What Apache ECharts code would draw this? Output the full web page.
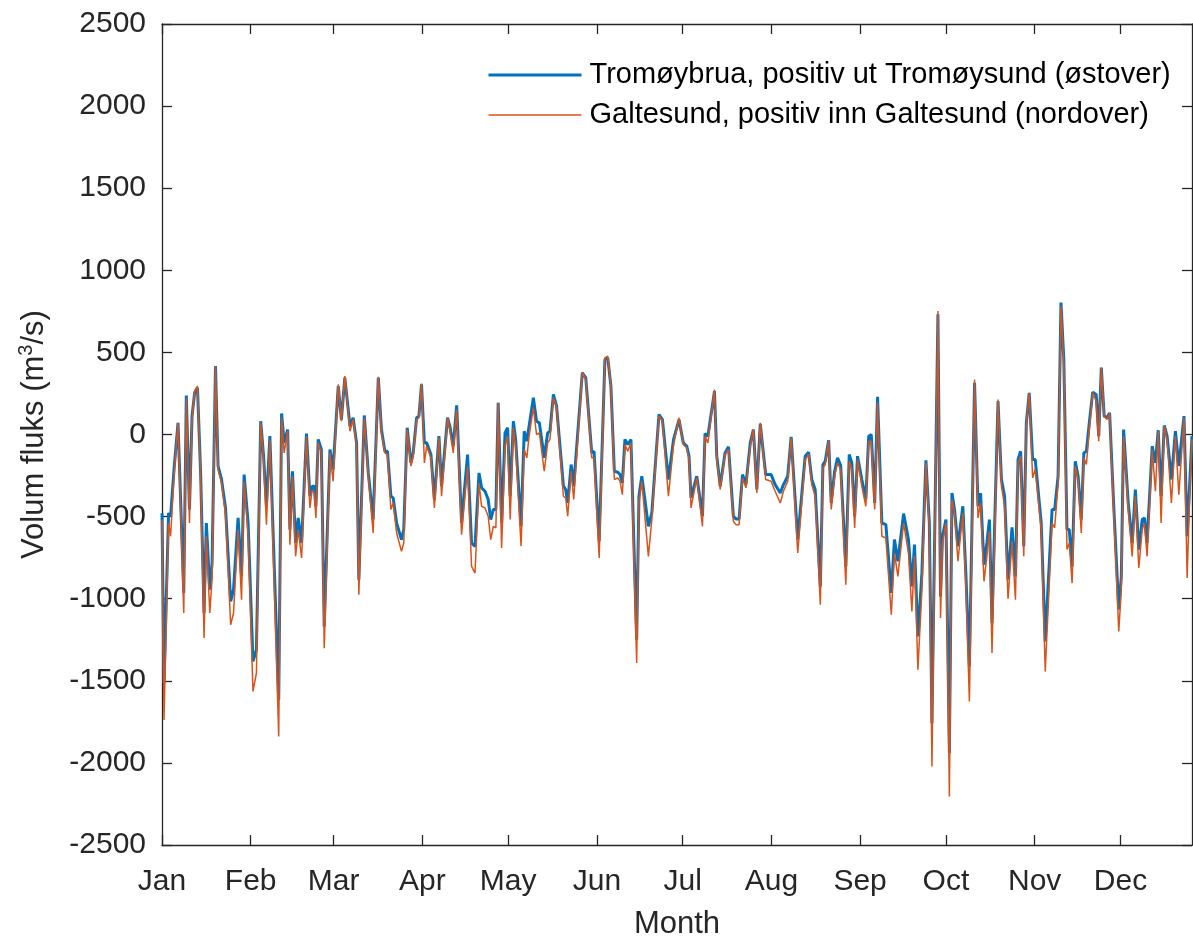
<!DOCTYPE html>
<html>
<head>
<meta charset="utf-8">
<script src="https://cdn.jsdelivr.net/npm/echarts@6/dist/echarts.min.js"></script>
<style>
html,body{margin:0;padding:0;background:#fff;}
#chart{width:1193px;height:938px;}
</style>
</head>
<body>
<div id="chart"></div>
<script>
// Day of year (0 = 1 Jan, leap year)
var days = [0,0.7,2.3,3.0,4.2,5.6,7.6,8.5,9.6,10.5,11.4,12.4,13.5,14.7,15.5,16.7,17.5,18.7,19.6,20.8,22.2,24.0,25.0,26.6,27.8,28.7,30.1,31.8,33.0,34.5,35.5,36.5,37.7,40.8,41.8,42.7,43.9,44.7,45.6,46.7,47.6,48.8,50.5,51.7,52.5,53.2,53.8,54.6,55.7,56.7,58.7,59.8,
61.6,62.7,63.9,65.7,66.8,68.0,68.8,70.7,72.1,73.8,75.6,76.7,77.9,78.8,80.0,80.8,82.0,83.7,84.5,85.7,87.0,87.8,89.0,89.8,90.7,91.7,92.5,94.0,95.2,96.8,97.7,99.8,100.6,101.8,103.0,104.7,106.8,108.2,109.4,110.8,111.7,112.9,114.0,114.9,115.8,116.7,117.5,118.7,
119.9,120.8,121.7,122.8,123.6,125.5,126.6,127.5,128.3,129.8,130.9,131.9,133.6,134.8,135.6,136.8,137.9,140.3,141.1,141.8,143.0,143.9,146.9,148.1,150.2,151.0,152.8,154.8,155.8,156.9,158.1,159.3,160.1,160.9,161.8,162.8,163.9,165.9,166.7,167.7,170.0,171.2,173.7,174.9,177.0,178.8,
180.7,182.2,183.4,184.2,184.9,186.9,188.9,189.8,190.8,193.1,193.9,195.1,196.8,198.0,199.7,200.6,201.7,202.9,204.1,205.6,206.7,207.9,209.1,211.0,212.9,214.3,216.1,217.2,218.7,219.9,222.2,224.8,226.0,227.1,228.3,230.1,231.0,231.8,233.0,233.9,235.1,236.1,237.2,
239.0,240.2,241.1,242.1,243.1,244.6,246.0,247.0,247.9,249.1,250.1,251.6,253.0,254.9,256.0,257.2,259.2,260.9,262.1,263.0,264.2,265.6,267.0,268.2,269.1,270.3,271.2,272.1,272.8,274.0,275.2,276.1,277.0,278.2,279.9,281.0,282.2,284.0,285.2,286.1,287.3,288.3,289.2,290.1,292.2,293.4,294.5,295.7,297.1,
298.3,299.2,300.1,301.2,302.1,303.1,304.3,305.2,307.3,308.7,311.1,312.0,313.2,314.2,315.2,316.3,317.1,318.1,319.2,320.2,321.3,322.2,323.1,324.1,325.3,326.5,327.4,328.3,329.3,330.3,331.2,332.6,334.4,335.3,336.1,337.7,339.1,340.2,341.4,342.6,343.4,344.3,346.1,347.2,348.2,349.2,350.3,351.3,352.8,354.2,355.4,357.2,358.3,359.1,360.0];

var tromoybrua = [-480,-1514,-478,-498,-213,71,-965,238,-457,112,254,285,-234,-1087,-539,-945,-783,417,-193,-274,-447,-1016,-945,-508,-864,-244,-539,-1382,-1311,81,-132,-437,-10,-1616,128,-51,30,-579,-224,-661,-508,-661,6,-376,-315,-315,-437,-30,-91,-1169,-91,-213,
295,91,346,51,102,-51,-884,116,-234,-518,346,30,-102,-102,-376,-386,-539,-640,-579,41,-173,-112,102,112,305,-51,-51,-122,-396,-10,-315,102,51,-71,177,-539,-122,-661,-681,-234,-325,-346,-396,-518,-457,-457,193,-539,
10,41,-376,81,-30,-559,20,-41,51,224,81,71,-142,10,20,244,173,-315,-335,-417,-183,-315,376,346,-112,-102,-650,457,467,295,-224,-230,-244,-295,-30,-61,-30,-1250,-376,-254,-559,-478,122,91,-274,-30,
91,-51,-71,-132,-386,-254,-498,6,-10,264,-132,-315,-112,-75,-498,-514,-514,-244,-305,-51,30,-335,65,-244,-244,-305,-356,-305,-254,-14,-640,-132,-108,-274,-335,-925,-183,-163,-35,-417,-224,-142,-188,
-803,-122,-173,-498,-132,-274,-396,-10,0,-417,230,-539,-549,-965,-640,-772,-482,-640,-925,-671,-1230,-843,-157,-539,-1758,-335,732,-986,-620,-518,-1941,-356,-457,-681,-437,-864,-1413,315,-437,-356,-793,-661,-518,-1148,203,-274,-376,-884,-565,
-864,-152,-102,-681,71,254,-152,-152,-539,-1260,-457,-457,-254,803,457,-579,-579,-803,-163,-254,-518,-112,-102,71,258,244,-10,407,112,102,132,-417,-1067,-864,30,-417,-661,-335,-701,-518,-508,-661,-71,-173,26,-376,55,-10,-274,20,-193,112,-620,-335,-10];

var galtesund = [-520,-1738,-539,-620,-254,71,-1087,224,-539,91,264,295,-254,-1240,-620,-1087,-884,417,-213,-295,-488,-1159,-1087,-579,-1006,-285,-620,-1565,-1453,71,-152,-549,-30,-1839,102,-112,20,-671,-254,-742,-579,-752,-10,-447,-335,-356,-508,-51,-112,-1301,-112,-285,
305,81,356,20,91,-71,-976,102,-254,-600,352,10,-112,-122,-457,-417,-600,-711,-661,30,-193,-132,91,102,311,-173,-71,-142,-447,-20,-376,102,30,-112,152,-610,-193,-803,-844,-295,-437,-447,-498,-640,-559,-569,193,-691,
-71,-10,-518,41,-71,-681,-91,-142,-10,163,0,10,-224,-51,-30,224,163,-376,-386,-498,-224,-396,380,335,-142,-142,-752,467,478,295,-274,-264,-285,-366,-61,-102,-51,-1392,-417,-285,-742,-518,112,81,-376,-61,
102,-61,-81,-152,-447,-264,-559,-10,-51,274,-152,-335,-122,-91,-528,-549,-549,-264,-325,-71,30,-356,71,-274,-285,-346,-417,-346,-285,-20,-722,-152,-122,-305,-376,-1037,-203,-183,-41,-457,-254,-173,-213,
-915,-163,-213,-569,-152,-315,-437,-41,-41,-457,193,-620,-630,-1098,-722,-864,-539,-722,-1077,-742,-1433,-945,-173,-579,-2022,-376,752,-1118,-661,-539,-2205,-396,-478,-772,-478,-945,-1626,335,-508,-417,-894,-742,-589,-1331,213,-315,-437,-1000,-650,
-1006,-173,-132,-742,61,254,-264,-213,-579,-1443,-539,-569,-295,783,417,-701,-661,-905,-193,-274,-600,-142,-183,30,254,203,-41,407,112,91,128,-457,-1199,-945,-10,-457,-742,-376,-813,-579,-539,-742,-91,-346,20,-539,51,-30,-417,-10,-366,102,-874,-417,-30];

// Month tick positions (day of year, leap year) and their labels
var monthTickDays = [0,31,60,91,121,152,182,213,244,274,305,335];
var monthLabels = ['Jan','Feb','Mar','Apr','May','Jun','Jul','Aug','Sep','Oct','Nov','Dec'];
var seriesNames = ['Tromøybrua, positiv ut Tromøysund (østover)','Galtesund, positiv inn Galtesund (nordover)'];

var FONT = '"Liberation Sans", Arial, Helvetica, sans-serif';
var AX = '#262626';
var BLUE = '#0072BD', ORANGE = '#D95319';

function pairs(xs, ys){ var out=[]; for (var i=0;i<xs.length;i++) out.push([xs[i], ys[i]]); return out; }
function monthName(v){ var i = monthTickDays.indexOf(Math.round(v)); return i>=0 ? monthLabels[i] : ''; }

var chart = echarts.init(document.getElementById('chart'), null, {renderer:'canvas'});
var xCommon = {
  type:'value', min:0, max:360,
  axisLine:{show:true, onZero:false, lineStyle:{color:AX, width:1.3}},
  axisTick:{show:true, inside:true, length:10, customValues:monthTickDays, lineStyle:{color:AX, width:1.3}},
  splitLine:{show:false}
};
var yCommon = {
  type:'value', min:-2500, max:2500, interval:500,
  axisLine:{show:true, onZero:false, lineStyle:{color:AX, width:1.3}},
  axisTick:{show:true, inside:true, length:10, lineStyle:{color:AX, width:1.3}},
  splitLine:{show:false}
};
var option = {
  animation:false,
  backgroundColor:'#fff',
  grid:{left:162, right:1, top:24, bottom:93, containLabel:false, outerBoundsMode:'none'},
  legend:{
    orient:'vertical', left:487, top:59, padding:0,
    itemWidth:93, itemHeight:14, itemGap:8,
    itemStyle:{opacity:0},
    data:[
      {name:seriesNames[0], lineStyle:{width:3, color:BLUE}},
      {name:seriesNames[1], lineStyle:{width:1.5, color:ORANGE}}
    ],
    textStyle:{fontFamily:FONT, fontSize:29, color:'#000', lineHeight:32, padding:[0,0,0,3]}
  },
  xAxis:[
    Object.assign({}, xCommon, {
      position:'bottom',
      name:'Month', nameLocation:'middle', nameGap:64,
      nameTextStyle:{fontFamily:FONT, fontSize:31, color:AX},
      axisLabel:{show:true, customValues:monthTickDays, margin:22, fontFamily:FONT, fontSize:30, color:AX, formatter:monthName}
    }),
    Object.assign({}, xCommon, {position:'top', axisLabel:{show:false}})
  ],
  yAxis:[
    Object.assign({}, yCommon, {
      position:'left',
      name:'Volum fluks (m{sup|3}/s)', nameLocation:'middle', nameGap:110, nameRotate:90,
      nameTextStyle:{fontFamily:FONT, fontSize:31, color:AX,
        rich:{sup:{fontFamily:FONT, fontSize:20, color:AX, padding:[0,0,16,0]}}},
      axisLabel:{show:true, margin:16, fontFamily:FONT, fontSize:30, color:AX, formatter:function(v){ return String(v); }}
    }),
    Object.assign({}, yCommon, {position:'right', axisLabel:{show:false}})
  ],
  series:[
    {name:seriesNames[0], type:'line', xAxisIndex:0, yAxisIndex:0, symbol:'none', data:pairs(days, tromoybrua),
     lineStyle:{color:BLUE, width:3}, itemStyle:{color:BLUE}, z:2},
    {name:seriesNames[1], type:'line', xAxisIndex:0, yAxisIndex:0, symbol:'none', data:pairs(days, galtesund),
     lineStyle:{color:ORANGE, width:1.5}, itemStyle:{color:ORANGE}, z:3}
  ]
};
chart.setOption(option);
</script>
</body>
</html>
